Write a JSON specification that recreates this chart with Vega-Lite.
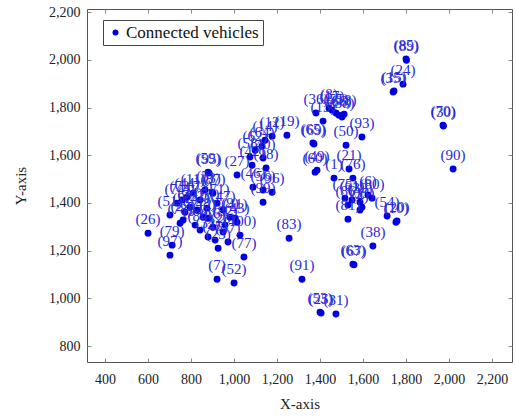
{
  "$schema": "https://vega.github.io/schema/vega-lite/v6.json",
  "width": 425,
  "height": 353,
  "autosize": "none",
  "padding": {"left": 87, "top": 9, "right": 4, "bottom": 55},
  "config": {
    "view": {"stroke": "#555555", "strokeWidth": 1},
    "font": "Liberation Serif",
    "axis": {"grid": false, "domain": false, "tickColor": "#888888", "labelFont": "Liberation Serif", "titleFont": "Liberation Serif", "labelColor": "#222222", "titleColor": "#222222", "labelFontSize": 14, "titleFontSize": 15, "titleFontWeight": "normal"}
  },
  "data": {"values": [
    {"x": 1800, "y": 2003, "label": "(85)"},
    {"x": 1802, "y": 1998, "label": "(89)"},
    {"x": 1786, "y": 1898, "label": "(24)"},
    {"x": 1744, "y": 1869, "label": "(15)"},
    {"x": 1740, "y": 1865, "label": "(35)"},
    {"x": 1972, "y": 1726, "label": "(70)"},
    {"x": 1974, "y": 1722, "label": "(30)"},
    {"x": 2019, "y": 1542, "label": "(90)"},
    {"x": 1381, "y": 1777, "label": "(36)"},
    {"x": 1414, "y": 1743, "label": "(13)"},
    {"x": 1456, "y": 1789, "label": "(17)"},
    {"x": 1474, "y": 1777, "label": "(55)"},
    {"x": 1488, "y": 1768, "label": "(66)"},
    {"x": 1502, "y": 1760, "label": "(88)"},
    {"x": 1512, "y": 1772, "label": "(18)"},
    {"x": 1442, "y": 1797, "label": "(8)"},
    {"x": 1246, "y": 1684, "label": "(19)"},
    {"x": 1367, "y": 1651, "label": "(65)"},
    {"x": 1372, "y": 1647, "label": "(69)"},
    {"x": 1521, "y": 1642, "label": "(50)"},
    {"x": 1595, "y": 1676, "label": "(93)"},
    {"x": 1377, "y": 1529, "label": "(60)"},
    {"x": 1386, "y": 1537, "label": "(49)"},
    {"x": 1535, "y": 1542, "label": "(21)"},
    {"x": 1465, "y": 1504, "label": "(1)"},
    {"x": 1553, "y": 1504, "label": "(76)"},
    {"x": 1516, "y": 1420, "label": "(75)"},
    {"x": 1549, "y": 1412, "label": "(61)"},
    {"x": 1586, "y": 1403, "label": "(39)"},
    {"x": 1595, "y": 1382, "label": "(33)"},
    {"x": 1586, "y": 1370, "label": "(4)"},
    {"x": 1623, "y": 1433, "label": "(6)"},
    {"x": 1642, "y": 1420, "label": "(80)"},
    {"x": 1530, "y": 1391, "label": "(86)"},
    {"x": 1530, "y": 1332, "label": "(81)"},
    {"x": 1712, "y": 1345, "label": "(54)"},
    {"x": 1753, "y": 1319, "label": "(10)"},
    {"x": 1758, "y": 1324, "label": "(20)"},
    {"x": 1646, "y": 1219, "label": "(38)"},
    {"x": 1553, "y": 1143, "label": "(63)"},
    {"x": 1558, "y": 1141, "label": "(67)"},
    {"x": 1256, "y": 1252, "label": "(83)"},
    {"x": 1316, "y": 1080, "label": "(91)"},
    {"x": 1405, "y": 938, "label": "(25)"},
    {"x": 1400, "y": 942, "label": "(53)"},
    {"x": 1474, "y": 934, "label": "(31)"},
    {"x": 1098, "y": 1621, "label": "(62)"},
    {"x": 1144, "y": 1663, "label": "(14)"},
    {"x": 1177, "y": 1680, "label": "(12)"},
    {"x": 1135, "y": 1588, "label": "(40)"},
    {"x": 1130, "y": 1638, "label": "(64)"},
    {"x": 1074, "y": 1592, "label": "(58)"},
    {"x": 1014, "y": 1517, "label": "(27)"},
    {"x": 1084, "y": 1558, "label": "(42)"},
    {"x": 1149, "y": 1546, "label": "(98)"},
    {"x": 1135, "y": 1454, "label": "(56)"},
    {"x": 1177, "y": 1445, "label": "(96)"},
    {"x": 1135, "y": 1403, "label": "(99)"},
    {"x": 1088, "y": 1466, "label": "(46)"},
    {"x": 879, "y": 1529, "label": "(59)"},
    {"x": 884, "y": 1525, "label": "(95)"},
    {"x": 898, "y": 1445, "label": "(3)"},
    {"x": 600, "y": 1273, "label": "(26)"},
    {"x": 712, "y": 1223, "label": "(79)"},
    {"x": 702, "y": 1181, "label": "(97)"},
    {"x": 749, "y": 1315, "label": "(78)"},
    {"x": 763, "y": 1328, "label": "(29)"},
    {"x": 735, "y": 1399, "label": "(74)"},
    {"x": 781, "y": 1424, "label": "(44)"},
    {"x": 809, "y": 1441, "label": "(11)"},
    {"x": 842, "y": 1412, "label": "(73)"},
    {"x": 874, "y": 1378, "label": "(57)"},
    {"x": 879, "y": 1336, "label": "(2)"},
    {"x": 879, "y": 1257, "label": "(32)"},
    {"x": 902, "y": 1298, "label": "(16)"},
    {"x": 926, "y": 1210, "label": "(23)"},
    {"x": 949, "y": 1278, "label": "(28)"},
    {"x": 972, "y": 1236, "label": "(37)"},
    {"x": 949, "y": 1370, "label": "(47)"},
    {"x": 981, "y": 1340, "label": "(9)"},
    {"x": 1005, "y": 1336, "label": "(41)"},
    {"x": 1014, "y": 1319, "label": "(43)"},
    {"x": 921, "y": 1399, "label": "(71)"},
    {"x": 828, "y": 1370, "label": "(22)"},
    {"x": 795, "y": 1382, "label": "(34)"},
    {"x": 856, "y": 1340, "label": "(48)"},
    {"x": 902, "y": 1441, "label": "(87)"},
    {"x": 772, "y": 1361, "label": "(92)"},
    {"x": 819, "y": 1307, "label": "(94)"},
    {"x": 912, "y": 1244, "label": "(45)"},
    {"x": 842, "y": 1286, "label": "(84)"},
    {"x": 702, "y": 1349, "label": "(51)"},
    {"x": 758, "y": 1412, "label": "(72)"},
    {"x": 958, "y": 1307, "label": "(82)"},
    {"x": 865, "y": 1454, "label": "(5)"},
    {"x": 1028, "y": 1265, "label": "(100)"},
    {"x": 1046, "y": 1173, "label": "(77)"},
    {"x": 921, "y": 1080, "label": "(7)"},
    {"x": 1000, "y": 1064, "label": "(52)"}
  ]},
  "layer": [
    {
      "mark": {"type": "point", "filled": true, "size": 48, "opacity": 1},
      "encoding": {
        "x": {"field": "x", "type": "quantitative", "scale": {"domain": [316, 2293], "nice": false, "zero": false},
              "axis": {"orient": "bottom", "title": "X-axis", "values": [400, 600, 800, 1000, 1200, 1400, 1600, 1800, 2000, 2200], "format": ",.0f", "labelFont": "Liberation Serif", "tickSize": -4, "labelPadding": 14, "titlePadding": 10}},
        "y": {"field": "y", "type": "quantitative", "scale": {"domain": [733, 2213], "nice": false, "zero": false},
              "axis": {"orient": "left", "title": "Y-axis", "values": [800, 1000, 1200, 1400, 1600, 1800, 2000, 2200], "format": ",.0f", "labelFont": "Liberation Serif", "tickSize": -4, "labelPadding": 11, "titlePadding": 20}},
        "color": {"datum": "Connected vehicles", "type": "nominal", "scale": {"range": ["#0000e0"]},
                  "legend": {"title": null, "orient": "none", "legendX": 16, "legendY": 11, "strokeColor": "#444444", "fillColor": "white", "padding": 4, "cornerRadius": 0, "symbolType": "circle", "symbolSize": 36, "labelFont": "Liberation Serif", "labelFontSize": 17, "labelColor": "#111111", "labelOffset": 2}}
      }
    },
    {
      "mark": {"type": "text", "dy": -14, "baseline": "middle", "fontSize": 15, "font": "Liberation Serif", "color": "#2a2ad8"},
      "encoding": {
        "x": {"field": "x", "type": "quantitative", "scale": {"domain": [316, 2293], "nice": false, "zero": false},
              "axis": {"orient": "top", "title": null, "labels": false, "values": [400, 600, 800, 1000, 1200, 1400, 1600, 1800, 2000, 2200], "tickSize": -4}},
        "y": {"field": "y", "type": "quantitative", "scale": {"domain": [733, 2213], "nice": false, "zero": false},
              "axis": {"orient": "right", "title": null, "labels": false, "values": [800, 1000, 1200, 1400, 1600, 1800, 2000, 2200], "tickSize": -4}},
        "text": {"field": "label"}
      }
    }
  ],
  "resolve": {"axis": {"x": "independent", "y": "independent"}}
}
